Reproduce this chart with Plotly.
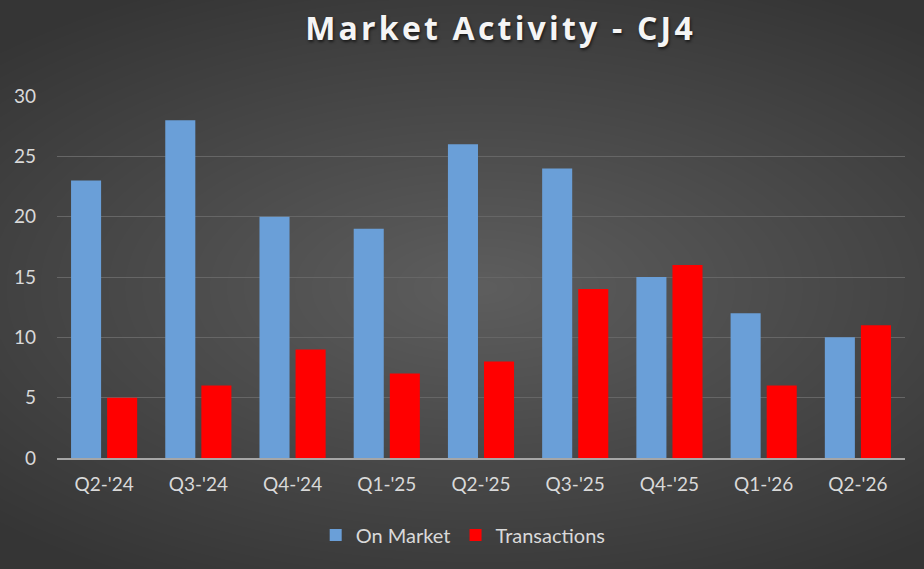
import plotly.graph_objects as go

# chart data
quarters = ["Q2-'24", "Q3-'24", "Q4-'24", "Q1-'25", "Q2-'25",
            "Q3-'25", "Q4-'25", "Q1-'26", "Q2-'26"]
on_market = [23, 28, 20, 19, 26, 24, 15, 12, 10]
transactions = [5, 6, 9, 7, 8, 14, 16, 6, 11]
title_text = "Market Activity - CJ4"

fig = go.Figure()
fig.add_trace(go.Bar(x=quarters, y=on_market, name="On Market",
                     marker=dict(color="#6a9fd8", line=dict(width=0))))
fig.add_trace(go.Bar(x=quarters, y=transactions, name="Transactions",
                     marker=dict(color="#ff0000", line=dict(width=0))))

# fake radial gradient for the background with stacked translucent ellipses
shapes = []
n = 40
for i in range(n):
    r = 0.8 - i * 0.8 / n
    shapes.append(dict(type="circle", xref="paper", yref="paper",
                       x0=0.5 - r, x1=0.5 + r, y0=0.47 - r * 1.15, y1=0.47 + r * 1.15,
                       fillcolor="rgba(255,255,255,0.0065)", line=dict(width=0),
                       layer="below"))

# spread the title letters a bit (Excel style character spacing)
spaced_title = "\u200a".join(title_text)

fig.update_layout(
    width=924, height=569,
    paper_bgcolor="#353535", plot_bgcolor="rgba(0,0,0,0)",
    font=dict(family="Lato, Open Sans, sans-serif", color="#d9d9d9", size=19),
    title=dict(text="<b>" + spaced_title + "</b>", x=0.54, xanchor="center",
               y=0.95, yanchor="middle",
               font=dict(size=32, color="#f5f5f5", family="Open Sans, Lato, sans-serif",
                         shadow="1px 2px 3px rgba(0,0,0,0.6)")),
    margin=dict(l=57, r=19, t=96, b=111),
    barmode="group", bargap=0.234, bargroupgap=0.167,
    showlegend=True,
    legend=dict(orientation="h", x=0.479, xanchor="center", y=-0.213, yanchor="middle",
                font=dict(size=20, color="#d9d9d9"), bgcolor="rgba(0,0,0,0)",
                itemwidth=30),
    shapes=shapes,
    xaxis=dict(showgrid=False, showline=True, linecolor="#a6a6a6", linewidth=2,
               ticks="", ticklabelstandoff=8, tickfont=dict(size=19, color="#d9d9d9")),
    yaxis=dict(range=[0, 30], dtick=5, showgrid=True, gridcolor="#666666",
               gridwidth=1, zeroline=False, showline=False, ticks="",
               ticklabelstandoff=20, tickfont=dict(size=19, color="#d9d9d9")),
)

fig.write_html("out.html", config={"displayModeBar": False},
               post_script="document.body.style.margin='0';")
